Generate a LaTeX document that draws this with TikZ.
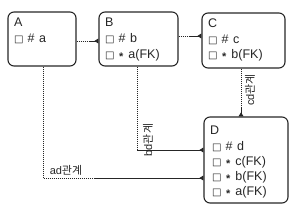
\documentclass[tikz,border=0pt]{standalone}
\usepackage{fontspec}
\setmainfont{Liberation Sans}
\newfontfamily\kr{Noto Sans CJK KR}
\newfontfamily\sym{DejaVu Sans}
\usetikzlibrary{arrows.meta}
\newcommand\cbox{{\sym\fontsize{10}{10}\selectfont □}}
\newcommand\pkrow[1]{\cbox\hspace{4pt}\#\hspace{4.5pt}#1}
\newcommand\fkrow[1]{\cbox\hspace{4.5pt}\raisebox{-2.5pt}{\fontsize{11}{11}\selectfont\bfseries *}\hspace{5pt}#1}
\begin{document}
\begin{tikzpicture}[x=1pt,y=-1pt,
  ebox/.style={draw=black!85, line width=1.1pt, rounded corners=6pt, inner sep=0pt},
  txt/.style={anchor=west, inner sep=0pt, font=\fontsize{12.5}{14}\selectfont, text=black!85},
  rel/.style={draw=black!85, line width=0.9pt},
  dots/.style={rel, dash pattern=on 1pt off 1pt},
  crowfoot/.style={rel, -{Triangle[reversed,length=4pt,width=5pt]}},
  lbl/.style={inner sep=0pt, font=\fontsize{11}{12}\selectfont, text=black!85}]
\useasboundingbox (0,0) rectangle (294,211);

% entity boxes
\node[ebox, minimum width=68pt, minimum height=54pt] (A) at (42,39) {};
\node[ebox, minimum width=79pt, minimum height=54pt] (B) at (138.5,39) {};
\node[ebox, minimum width=83pt, minimum height=55pt] (C) at (243.5,40.5) {};
\node[ebox, minimum width=84pt, minimum height=86pt] (D) at (246,160) {};

% texts
\node[txt] (Ah) at (14,22) {A};
\node[txt] (A1) at (14,39) {\pkrow{a}};

\node[txt] (Bh) at (105,22) {B};
\node[txt] (B1) at (105,39) {\pkrow{b}};
\node[txt] (B2) at (105,55) {\fkrow{a(FK)}};

\node[txt] (Ch) at (208,23) {C};
\node[txt] (C1) at (208,40) {\pkrow{c}};
\node[txt] (C2) at (208,55) {\fkrow{b(FK)}};

\node[txt] (Dh) at (210,130) {D};
\node[txt] (D1) at (212,147) {\pkrow{d}};
\node[txt] (D2) at (212,162) {\fkrow{c(FK)}};
\node[txt] (D3) at (212,177) {\fkrow{b(FK)}};
\node[txt] (D4) at (212,192) {\fkrow{a(FK)}};

% connector points
\coordinate (ab) at (90,41);
\coordinate (bc) at (190,36);
\coordinate (cd) at (241,108);
\coordinate (bdc) at (137,150);
\coordinate (adc) at (43,178);
\coordinate (adm) at (95,178);

% A - B
\draw[dots] (A.east |- ab) -- (ab);
\draw[crowfoot] (ab) -- (B.west |- ab);
% B - C
\draw[dots] (B.east |- bc) -- (bc);
\draw[crowfoot] (bc) -- (C.west |- bc);
% C - D
\draw[dots] (C.south -| cd) -- (cd);
\draw[crowfoot] (cd) -- (D.north -| cd);
% B - D
\draw[dots] (B.south -| bdc) -- (bdc);
\draw[crowfoot] (bdc) -- (D.west |- bdc);
% A - D
\draw[dots] (A.south -| adc) -- (adc) -- (adm);
\draw[crowfoot] (adm) -- (D.west |- adm);

% labels
\node[lbl] (lad) at (66,170) {ad{\kr 관계}};
\node[lbl, rotate=90] (lbd) at (148,140) {bd{\kr 관계}};
\node[lbl, rotate=90] (lcd) at (250,90) {cd{\kr 관계}};
\end{tikzpicture}
\end{document}
